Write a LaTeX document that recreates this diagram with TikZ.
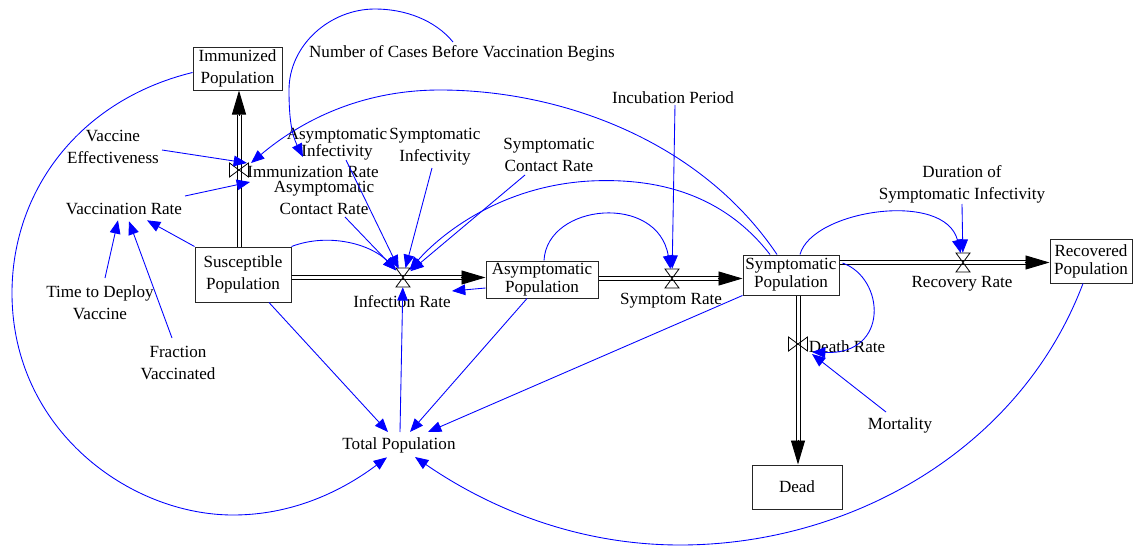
\documentclass[tikz,border=0pt]{standalone}
\usepackage{fontspec}
\setmainfont{Liberation Serif}
\usetikzlibrary{arrows.meta,calc}
\newcommand\vf{\fontsize{12.8}{16.5}\selectfont}
\newcommand\vfs{\fontsize{12.8}{13.5}\selectfont}
\newcommand\vft{\fontsize{12.8}{9.75}\selectfont}
\definecolor{infoblue}{RGB}{0,0,255}
\begin{document}
\begin{tikzpicture}[x=0.75pt,y=-0.75pt,
  stock/.style={draw=black!85, line width=0.75pt, font=\vf, align=center, inner sep=0pt},
  var/.style={font=\vf, align=center, inner sep=1pt},
  pipe/.style={draw=black, double=white, double distance=2.3pt, line width=0.7pt},
  pipeline/.style={draw=black, line width=0.7pt},
  ftip/.style={-{Triangle[length=18pt,width=10.5pt]}, line width=0.7pt},
  info/.style={draw=infoblue, line width=0.65pt, -{Triangle[length=10pt,width=8pt]}},
  vhole/.style={circle, inner sep=0pt, minimum size=14.25pt},
  valveV/.pic={\draw[line width=0.6pt] (-7,-9.5) -- (7,-9.5) -- (-7,9.5) -- (7,9.5) -- cycle;},
  valveH/.pic={\draw[line width=0.6pt] (-9.5,-7) -- (-9.5,7) -- (9.5,-7) -- (9.5,7) -- cycle;},
]
\useasboundingbox (0,0) rectangle (1133,546);

% stocks
\node[stock, minimum width=66.75pt, minimum height=32.25pt] (imm) at (237.5,68.5) {Immunized\\Population};
\node[stock, minimum width=72pt, minimum height=41.25pt] (sus) at (243,274.5) {Susceptible\\Population};
\node[stock, font=\vfs, minimum width=84pt, minimum height=27.75pt] (asy) at (542,279.5) {Asymptomatic\\Population};
\node[stock, font=\vfs, minimum width=72pt, minimum height=30pt] (sym) at (791,275) {Symptomatic\\Population};
\node[stock, font=\vfs, minimum width=61.5pt, minimum height=33pt] (rec) at (1091,261) {Recovered\\Population};
\node[stock, minimum width=67.5pt, minimum height=33pt] (dead) at (797,487) {Dead};

% valves
\node[vhole] (vinf) at (403,277.5) {};
\node[vhole] (vsym) at (672,278.5) {};
\node[vhole] (vrec) at (963,262.5) {};
\node[vhole] (vimr) at (239,170) {};
\node[vhole] (vdth) at (798,344) {};

% rate labels
\node[var] (iml) at (313,172) {Immunization Rate};
\node[var] (irl) at (402,301.3) {Infection Rate};
\node[var] (sml) at (671,300.3) {Symptom Rate};
\node[var] (rrl) at (962,283.3) {Recovery Rate};
\node[var] (drl) at (847,346.3) {Death Rate};

% auxiliaries
\node[var] (ncb) at (462,53.3) {Number of Cases Before Vaccination Begins};
\node[var] (vef) at (113,147.3) {Vaccine\\Effectiveness};
\node[var] (vr) at (124,209.3) {Vaccination Rate};
\node[var] (tdv) at (100,302.3) {Time to Deploy\\Vaccine};
\node[var] (frv) at (178,362.8) {Fraction\\Vaccinated};
\node[var, font=\vft] (ainf) at (337,144) {Asymptomatic\\Infectivity};
\node[var] (sinf) at (435,146.3) {Symptomatic\\Infectivity};
\node[var] (scr) at (549,155.3) {Symptomatic\\Contact Rate};
\node[var] (acr) at (324,198) {Asymptomatic\\Contact Rate};
\node[var] (incp) at (673,97.3) {Incubation Period};
\node[var] (dsi) at (962,184.3) {Duration of\\Symptomatic Infectivity};
\node[var] (mort) at (900,425.3) {Mortality};
\node[var] (totp) at (399,445.3) {Total Population};

% flows (horizontal: double line; vertical: two parallel lines)
\draw[pipeline] ($(sus.north)+(-6,0)$) -- ($(imm.south)+(-0.5,24)$);
\draw[pipeline] ($(sus.north)+(-2,0)$) -- ($(imm.south)+(3.5,24)$);
\draw[ftip] ($(imm.south)+(1.5,25)$) -- ($(imm.south)+(1.5,0)$);
\draw[pipe] (sus.east |- vinf) -- ($(asy.west |- vinf)+(-23,0)$);
\draw[ftip] ($(asy.west |- vinf)+(-25,0)$) -- (asy.west |- vinf);
\draw[pipe] (asy.east |- vsym) -- ($(sym.west |- vsym)+(-23,0)$);
\draw[ftip] ($(sym.west |- vsym)+(-25,0)$) -- (sym.west |- vsym);
\draw[pipe] (sym.east |- vrec) -- ($(rec.west |- vrec)+(-23,0)$);
\draw[ftip] ($(rec.west |- vrec)+(-25,0)$) -- (rec.west |- vrec);
\draw[pipeline] ($(sym.south)+(5,0)$) -- ($(dead.north)+(-1,-23)$);
\draw[pipeline] ($(sym.south)+(9,0)$) -- ($(dead.north)+(3,-23)$);
\draw[ftip] ($(dead.north)+(1,-25)$) -- ($(dead.north)+(1,0)$);

\pic at (vinf) {valveV};
\pic at (vsym) {valveV};
\pic at (vrec) {valveV};
\pic at (vimr) {valveH};
\pic at (vdth) {valveH};

% information links
\draw[info] ($(ncb)+(-9,-11.3)$) .. controls (435,20) and (405,9) .. (375,9) .. controls (330,9) and (289,45) .. (289,90) .. controls (289,120) and (292,135) .. ($(iml)+(-10,-15)$);
\draw[info] ($(vef)+(49,2.7)$) -- ($(vimr)+(8,-7)$);
\draw[info] ($(vr)+(61,-13.3)$) -- ($(vimr)+(11,12)$);
\draw[info] ($(sym.north)+(-14,0)$) .. controls (700,140) and (560,90) .. (440,90) .. controls (350,90) and (290,130) .. ($(vimr)+(12,-7)$);
\draw[info] (sus.north west) -- ($(vr)+(23,11)$);
\draw[info] ($(tdv)+(5,-24.3)$) -- ($(vr)+(-6,11)$);
\draw[info] ($(frv)+(-6,-24.8)$) -- ($(vr)+(5,12)$);
\draw[info] ($(imm.west)+(0,4)$) .. controls (80,100) and (12,190) .. (12,293) .. controls (12,430) and (130,515) .. (233,515) .. controls (300,515) and (350,485) .. ($(totp)+(-12,12)$);
\draw[info] (sus.north east) .. controls (330,232) and (372,245) .. (vinf);
\draw[info] ($(acr)+(21,19)$) -- (vinf);
\draw[info] ($(ainf)+(9,16)$) -- (vinf);
\draw[info] ($(sinf)+(-3,21.7)$) -- (vinf);
\draw[info] ($(scr)+(-24,19.7)$) -- (vinf);
\draw[info] ($(sym.north)+(-21,0)$) .. controls (720,190) and (650,178) .. (590,181) .. controls (500,186) and (440,235) .. (vinf);
\draw[info] ($(asy.west)+(0,8.5)$) -- ($(irl)+(50,-10.3)$);
\draw[info] ($(totp)+(1,-13.3)$) -- (vinf);
\draw[info] ($(sus.south)+(26,0)$) -- ($(totp)+(-11,-13.3)$);
\draw[info] ($(asy.south)+(-15,0)$) -- ($(totp)+(11,-13.3)$);
\draw[info] (sym.south west) -- ($(totp)+(29,-13.3)$);
\draw[info] ($(rec.south)+(-8,0)$) .. controls (1020,450) and (850,545) .. (680,545) .. controls (560,545) and (470,495) .. ($(totp)+(16,11.7)$);
\draw[info] ($(asy.north)+(2,0)$) .. controls (547,203) and (658,193) .. (vsym);
\draw[info] ($(incp)+(2,7.7)$) -- (vsym);
\draw[info] ($(sym.north)+(9,0)$) .. controls (812,210) and (945,190) .. (vrec);
\draw[info] ($(dsi)+(0,19.7)$) -- (vrec);
\draw[info] ($(sym.east)+(3,-12)$) .. controls (885,278) and (890,355) .. ($(vdth)+(14,8)$);
\draw[info] ($(mort)+(-14,-13.3)$) -- ($(vdth)+(14,10)$);
\end{tikzpicture}
\end{document}
